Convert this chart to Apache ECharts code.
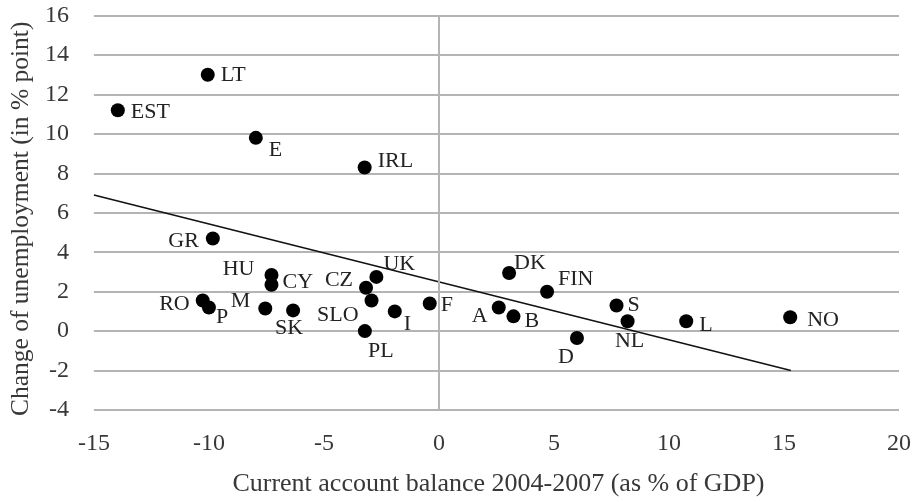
<!DOCTYPE html>
<html>
<head>
<meta charset="utf-8">
<script src="https://cdn.jsdelivr.net/npm/echarts@6/dist/echarts.min.js"></script>
<style>
  html, body { margin: 0; padding: 0; background: #fff; }
  #chart { width: 916px; height: 502px; }
</style>
</head>
<body>
<div id="chart"></div>
<script>
// country codes, current account balance (x) and change of unemployment (y)
const countries = ['EST','LT','E','IRL','GR','HU','CY','RO','P','M','SK','CZ','UK','SLO','PL','I','F','A','B','DK','FIN','D','S','NL','L','NO'];
const balance = [-13.96,-10.05,-7.96,-3.23,-9.83,-7.28,-7.28,-10.27,-10.0,-7.55,-6.34,-3.17,-2.72,-2.93,-3.22,-1.92,-0.40,2.6,3.24,3.05,4.7,6.0,7.72,8.2,10.75,15.27];
const unemployment = [11.2,13.0,9.8,8.3,4.7,2.85,2.35,1.55,1.2,1.15,1.05,2.2,2.75,1.55,0.0,1.0,1.4,1.2,0.75,2.95,2.0,-0.35,1.3,0.5,0.5,0.7];

// trend line end points
const trendX = [-15, 15.3];
const trendY = [6.9, -2.0];

const serif = '"Liberation Serif", "DejaVu Serif", serif';

// label placement per country: [position, dx, dy]
const labelPlace = {
  EST: ['right', 2, 2], LT: ['right', 2, 0], E: ['right', 2, 12], IRL: ['right', 2, -6],
  GR: ['left', -3, 3], HU: ['left', -6, -6], CY: ['right', 0, -3], RO: ['left', -2, 4],
  P: ['right', -4, 10], M: ['left', -4, -7], SK: ['bottom', -4, -4], CZ: ['left', -2, -8],
  UK: ['right', -4, -13], SLO: ['left', -2, 15], PL: ['bottom', 16, -2], I: ['right', -2, 13],
  F: ['right', 0, 2], A: ['left', 0, 9], B: ['right', 0, 5], DK: ['right', -6, -10],
  FIN: ['right', 0, -12], D: ['left', 8, 19], S: ['right', 0, 0], NL: ['bottom', 2, -2],
  L: ['right', 2, 4], NO: ['right', 6, 3]
};

const points = countries.map((c, i) => {
  const p = labelPlace[c];
  return {
    value: [balance[i], unemployment[i]],
    name: c,
    label: { position: p[0], offset: [p[1], p[2]] }
  };
});

const chart = echarts.init(document.getElementById('chart'));
chart.setOption({
  animation: false,
  grid: { left: 93, right: 17, top: 15.6, bottom: 89.3 },
  xAxis: {
    type: 'value',
    min: -15, max: 20, interval: 5,
    name: 'Current account balance 2004-2007 (as % of GDP)',
    nameLocation: 'middle',
    nameGap: 61,
    nameTextStyle: { fontFamily: serif, fontSize: 26, color: '#383838', padding: [0, 0, 0, 4] },
    axisLine: { show: false },
    axisTick: { show: false },
    splitLine: { show: false },
    axisLabel: { fontFamily: serif, fontSize: 24, color: '#383838', margin: 22 }
  },
  yAxis: {
    type: 'value',
    min: -4, max: 16, interval: 2,
    name: 'Change of unemployment (in % point)',
    nameLocation: 'middle',
    nameGap: 57,
    nameTextStyle: { fontFamily: serif, fontSize: 25.5, color: '#383838', padding: [0, 12, 0, 0] },
    axisLine: { show: false },
    axisTick: { show: false },
    axisLabel: { fontFamily: serif, fontSize: 24, color: '#383838', margin: 25, padding: [6, 0, 0, 0] },
    splitLine: { show: true, lineStyle: { color: '#b4b4b4', width: 2 } }
  },
  series: [
    {
      type: 'line',
      data: trendX.map((x, i) => [x, trendY[i]]),
      showSymbol: false,
      symbol: 'none',
      lineStyle: { color: '#111', width: 1.5 },
      z: 3,
      markLine: {
        silent: true,
        symbol: 'none',
        label: { show: false },
        lineStyle: { color: '#b4b4b4', width: 2, type: 'solid' },
        data: [{ xAxis: 0 }]
      }
    },
    {
      type: 'scatter',
      data: points,
      symbol: 'circle',
      symbolSize: 14,
      itemStyle: { color: '#000', opacity: 1 },
      z: 4,
      label: {
        show: true,
        formatter: '{b}',
        fontFamily: serif,
        fontSize: 22,
        color: '#222',
        distance: 4
      }
    }
  ]
});
</script>
</body>
</html>
